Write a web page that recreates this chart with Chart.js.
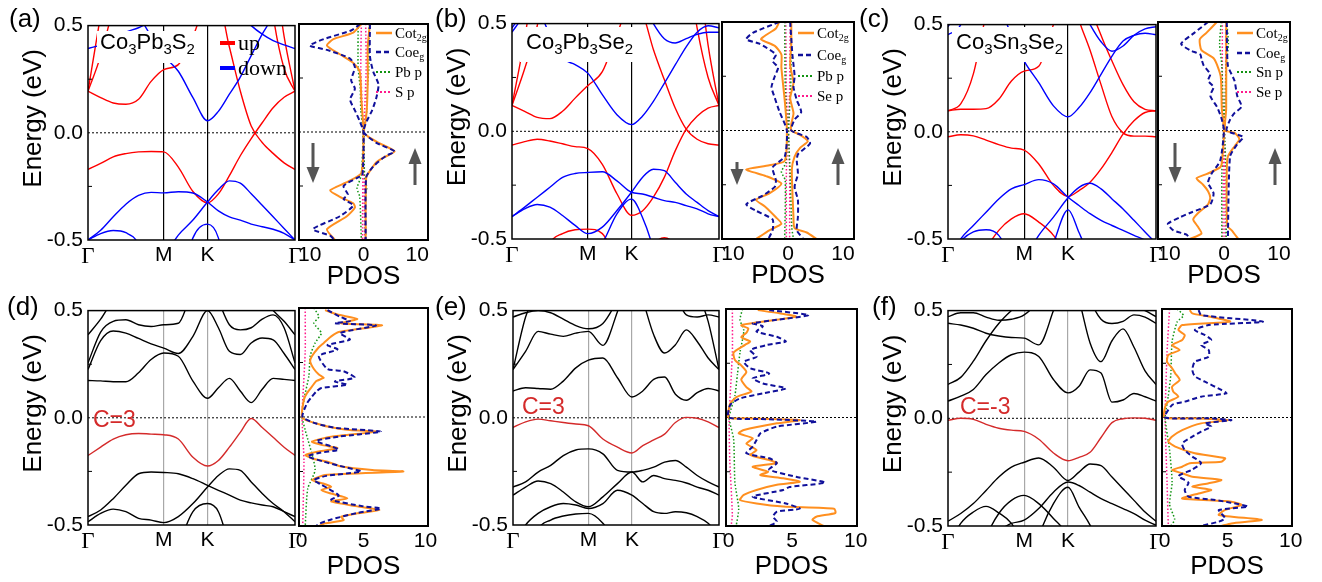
<!DOCTYPE html>
<html>
<head>
<meta charset="utf-8">
<script src="https://cdn.jsdelivr.net/npm/chart.js@4.4.1/dist/chart.umd.min.js"></script>
<style>
  body { margin: 0; background: #fff; }
  #fig { position: relative; width: 1322px; height: 582px; overflow: hidden; font-family: "Liberation Sans", Arial, sans-serif; color: #000; }
  #plots canvas { position: absolute; }
  .ov { position: absolute; white-space: nowrap; line-height: 1; }
  .panel { font-size: 26px; }
  .formula { font-size: 22px; }
  .formula sub { font-size: 15px; vertical-align: -5px; line-height: 0; }
  .wbox { position: absolute; background: #fff; }
  .chern { font-size: 23px; color: #d42a2a; }
  .spin { font-family: "Liberation Serif", "Times New Roman", serif; font-size: 22px; display: flex; align-items: center; height: 24px; }
  .spin i { display: inline-block; width: 15px; height: 4px; margin-right: 3px; }
  .leg { font-family: "Liberation Serif", "Times New Roman", serif; font-size: 15px; display: flex; align-items: center; height: 18px; }
  .leg svg { margin-right: 3px; }
  .leg sub { font-size: 10px; vertical-align: -3px; line-height: 0; }
</style>
</head>
<body>
<div id="fig">
  <div id="plots"></div>

  <!-- white boxes behind the compound names -->
  <div class="wbox" style="left:97px;top:31px;width:104px;height:32px"></div>
  <div class="wbox" style="left:520px;top:27px;width:121px;height:35px"></div>
  <div class="wbox" style="left:952px;top:27px;width:114px;height:35px"></div>

  <div class="ov panel" style="left:9px;top:5px">(a)</div>
  <div class="ov panel" style="left:435px;top:5px">(b)</div>
  <div class="ov panel" style="left:859px;top:5px">(c)</div>
  <div class="ov panel" style="left:7px;top:293px">(d)</div>
  <div class="ov panel" style="left:435px;top:293px">(e)</div>
  <div class="ov panel" style="left:872px;top:293px">(f)</div>

  <div class="ov formula" style="left:100px;top:31px">Co<sub>3</sub>Pb<sub>3</sub>S<sub>2</sub></div>
  <div class="ov formula" style="left:526px;top:31px">Co<sub>3</sub>Pb<sub>3</sub>Se<sub>2</sub></div>
  <div class="ov formula" style="left:956px;top:31px">Co<sub>3</sub>Sn<sub>3</sub>Se<sub>2</sub></div>

  <div class="ov spin" style="left:220px;top:31px"><i style="background:#ff0000"></i><span>up</span></div>
  <div class="ov spin" style="left:220px;top:56px"><i style="background:#0000ff"></i><span>down</span></div>

  <div class="ov chern" style="left:93px;top:408px">C=3</div>
  <div class="ov chern" style="left:522px;top:395px">C=3</div>
  <div class="ov chern" style="left:960px;top:395px">C=-3</div>

  <!-- PDOS legends -->
  <div class="ov leg" style="left:376px;top:24px"><svg width="16" height="6"><line x1="0" y1="3" x2="16" y2="3" stroke="#ff8f1f" stroke-width="2.5"/></svg><span>Cot<sub>2g</sub></span></div>
  <div class="ov leg" style="left:376px;top:43px"><svg width="16" height="6"><line x1="0" y1="3" x2="16" y2="3" stroke="#10109a" stroke-width="2.5" stroke-dasharray="5 3"/></svg><span>Coe<sub>g</sub></span></div>
  <div class="ov leg" style="left:376px;top:63px"><svg width="16" height="6"><line x1="0" y1="3" x2="16" y2="3" stroke="#129412" stroke-width="2" stroke-dasharray="2 2"/></svg><span>Pb p</span></div>
  <div class="ov leg" style="left:376px;top:83px"><svg width="16" height="6"><line x1="0" y1="3" x2="16" y2="3" stroke="#ff1a8c" stroke-width="2" stroke-dasharray="2 2"/></svg><span>S p</span></div>

  <div class="ov leg" style="left:798px;top:24px"><svg width="16" height="6"><line x1="0" y1="3" x2="16" y2="3" stroke="#ff8f1f" stroke-width="2.5"/></svg><span>Cot<sub>2g</sub></span></div>
  <div class="ov leg" style="left:798px;top:46px"><svg width="16" height="6"><line x1="0" y1="3" x2="16" y2="3" stroke="#10109a" stroke-width="2.5" stroke-dasharray="5 3"/></svg><span>Coe<sub>g</sub></span></div>
  <div class="ov leg" style="left:798px;top:67px"><svg width="16" height="6"><line x1="0" y1="3" x2="16" y2="3" stroke="#129412" stroke-width="2" stroke-dasharray="2 2"/></svg><span>Pb p</span></div>
  <div class="ov leg" style="left:798px;top:87px"><svg width="16" height="6"><line x1="0" y1="3" x2="16" y2="3" stroke="#ff1a8c" stroke-width="2" stroke-dasharray="2 2"/></svg><span>Se p</span></div>

  <div class="ov leg" style="left:1237px;top:24px"><svg width="16" height="6"><line x1="0" y1="3" x2="16" y2="3" stroke="#ff8f1f" stroke-width="2.5"/></svg><span>Cot<sub>2g</sub></span></div>
  <div class="ov leg" style="left:1237px;top:44px"><svg width="16" height="6"><line x1="0" y1="3" x2="16" y2="3" stroke="#10109a" stroke-width="2.5" stroke-dasharray="5 3"/></svg><span>Coe<sub>g</sub></span></div>
  <div class="ov leg" style="left:1237px;top:63px"><svg width="16" height="6"><line x1="0" y1="3" x2="16" y2="3" stroke="#129412" stroke-width="2" stroke-dasharray="2 2"/></svg><span>Sn p</span></div>
  <div class="ov leg" style="left:1237px;top:83px"><svg width="16" height="6"><line x1="0" y1="3" x2="16" y2="3" stroke="#ff1a8c" stroke-width="2" stroke-dasharray="2 2"/></svg><span>Se p</span></div>

  <!-- spin arrows -->
  <svg class="ov" style="left:0;top:0" width="1322" height="300">
    <g fill="#555">
      <rect x="311.5" y="143" width="3" height="26"/><polygon points="306.5,167 319.5,167 313,183"/>
      <rect x="413.5" y="162" width="3" height="23"/><polygon points="408.5,164 421.5,164 415,148"/>
      <rect x="735.5" y="162" width="3" height="9"/><polygon points="730.5,169 743.5,169 737,185"/>
      <rect x="836.5" y="162" width="3" height="23"/><polygon points="831.5,164 844.5,164 838,148"/>
      <rect x="1173.5" y="143" width="3" height="26"/><polygon points="1168.5,167 1181.5,167 1175,183"/>
      <rect x="1273.5" y="162" width="3" height="23"/><polygon points="1268.5,164 1281.5,164 1275,148"/>
    </g>
  </svg>
</div>

<script>
// k-path  Γ - M - K - Γ
const kGrid = [0, 0.167, 0.333, 0.5, 0.667, 0.833, 1, 1.192, 1.385, 1.577, 1.721, 1.866, 2.01, 2.154, 2.299, 2.443, 2.588, 2.732];
const kTicks = [0, 1, 1.577, 2.732];
const kLabels = ['Γ', 'M', 'K', 'Γ'];
const pdosTopTicks = [-10, 0, 10];
const pdosBotTicks = [0, 5, 10];

// (a) Co3Pb3S2, spin up / spin down bands (eV)
const aUp1 = [-0.171,-0.143,-0.112,-0.097,-0.089,-0.087,-0.089,-0.16,-0.274,-0.327,-0.285,-0.2,-0.107,-0.027,0.047,0.117,0.166,0.194];
const aUp2 = [0.194,0.164,0.139,0.133,0.156,0.24,0.295,0.318,0.45,0.6,0.6,0.4,0.195,0.032,-0.045,-0.096,-0.14,-0.171];
const aUp3 = [0.194,0.55,0.9,1,1,1,1,1,1,1,1,1,1,1,1,0.8,0.45,0.194];
const aUp4 = [0.194,0.36,0.6,1,1,1,1,1,1,1,1,1,1,1,1,0.55,0.3,0.194];
const aDn1 = [0.8,0.8,0.75,0.65,0.55,0.45,0.36,0.287,0.164,0.056,0.1,0.18,0.26,0.36,0.46,0.55,0.7,0.8];
const aDn2 = [-0.5,-0.455,-0.392,-0.333,-0.292,-0.278,-0.28,-0.275,-0.281,-0.323,-0.364,-0.392,-0.407,-0.426,-0.438,-0.45,-0.469,-0.5];
const aDn3 = [-0.9,-0.85,-0.8,-0.75,-0.7,-0.65,-0.58,-0.477,-0.407,-0.323,-0.265,-0.224,-0.235,-0.284,-0.338,-0.392,-0.446,-0.5];
const aDn4 = [-0.5,-0.47,-0.456,-0.466,-0.52,-0.7,-0.8,-0.8,-0.8,-0.8,-0.8,-0.8,-0.8,-0.8,-0.8,-0.8,-0.7,-0.5];
const aDn5 = [-0.8,-0.8,-0.8,-0.8,-0.8,-0.8,-0.8,-0.75,-0.49,-0.426,-0.49,-0.75,-0.8,-0.8,-0.8,-0.8,-0.8,-0.8];
const aDn6 = [0.393,0.41,0.44,0.47,0.49,0.52,0.55,0.6,0.65,0.7,0.65,0.6,0.55,0.5,0.46,0.43,0.41,0.393];

// (b) Co3Pb3Se2
const bUp1 = [-0.064,-0.048,-0.037,-0.045,-0.058,-0.071,-0.08,-0.153,-0.29,-0.39,-0.37,-0.306,-0.214,-0.091,0.01,0.07,0.108,0.12];
const bUp2 = [0.12,0.093,0.065,0.059,0.093,0.154,0.212,0.277,0.45,0.6,0.55,0.38,0.24,0.108,0.01,-0.037,-0.058,-0.064];
const bUp3 = [0.12,0.43,0.8,1,1,1,1,1,1,1,1,1,1,1,1,0.8,0.4,0.12];
const bUp4 = [0.12,0.29,0.49,0.8,1,1,1,1,1,1,1,1,1,1,0.8,0.48,0.25,0.12];
const bUp5 = [-0.8,-0.8,-0.7,-0.52,-0.475,-0.457,-0.454,-0.475,-0.6,-0.7,-0.65,-0.53,-0.494,-0.53,-0.65,-0.8,-0.8,-0.8];
const bDn1 = [0.48,0.55,0.55,0.45,0.34,0.31,0.27,0.17,0.077,0.031,0.07,0.139,0.223,0.308,0.392,0.46,0.49,0.48];
const bDn2 = [0.46,0.55,0.7,0.8,0.8,0.8,0.8,0.8,0.8,0.7,0.6,0.5,0.43,0.41,0.43,0.45,0.46,0.46];
const bDn3 = [-0.396,-0.352,-0.306,-0.26,-0.214,-0.196,-0.191,-0.188,-0.23,-0.283,-0.291,-0.306,-0.322,-0.33,-0.345,-0.36,-0.383,-0.396];
const bDn4 = [-0.396,-0.36,-0.34,-0.352,-0.391,-0.437,-0.475,-0.445,-0.368,-0.283,-0.214,-0.176,-0.183,-0.237,-0.291,-0.33,-0.368,-0.396];
const bDn5 = [-0.8,-0.8,-0.8,-0.8,-0.8,-0.7,-0.6,-0.52,-0.383,-0.315,-0.399,-0.55,-0.8,-0.8,-0.8,-0.8,-0.8,-0.8];

// (c) Co3Sn3Se2
const cUp1 = [-0.023,-0.014,-0.019,-0.039,-0.06,-0.076,-0.085,-0.15,-0.25,-0.302,-0.274,-0.235,-0.173,-0.096,-0.011,0.051,0.09,0.098];
const cUp2 = [0.098,0.105,0.105,0.108,0.152,0.237,0.283,0.306,0.5,0.7,0.52,0.38,0.22,0.07,-0.005,-0.02,-0.02,-0.023];
const cUp3 = [0.098,0.13,0.27,0.55,0.8,1,1,1,1,1,0.9,0.6,0.45,0.33,0.22,0.14,0.105,0.098];
const cUp4 = [-0.8,-0.8,-0.7,-0.55,-0.46,-0.406,-0.382,-0.421,-0.483,-0.6,-0.8,-0.8,-0.8,-0.8,-0.8,-0.8,-0.8,-0.8];
const cDn1 = [0.453,0.5,0.7,0.7,0.6,0.45,0.33,0.229,0.121,0.07,0.113,0.183,0.268,0.353,0.423,0.45,0.46,0.453];
const cDn2 = [0.49,0.6,0.8,0.8,0.8,0.8,0.8,0.8,0.8,0.7,0.6,0.5,0.42,0.376,0.4,0.45,0.48,0.49];
const cDn3 = [-0.62,-0.5,-0.437,-0.375,-0.313,-0.266,-0.246,-0.223,-0.243,-0.305,-0.344,-0.382,-0.413,-0.437,-0.46,-0.483,-0.506,-0.55];
const cDn4 = [-0.8,-0.8,-0.8,-0.8,-0.8,-0.7,-0.6,-0.483,-0.398,-0.308,-0.259,-0.24,-0.266,-0.313,-0.36,-0.413,-0.467,-0.52];
const cDn5 = [-0.6,-0.51,-0.467,-0.457,-0.483,-0.6,-0.8,-0.8,-0.8,-0.8,-0.8,-0.8,-0.8,-0.8,-0.8,-0.8,-0.8,-0.8];
const cDn6 = [-0.8,-0.8,-0.8,-0.8,-0.8,-0.8,-0.8,-0.7,-0.52,-0.364,-0.47,-0.6,-0.8,-0.8,-0.8,-0.8,-0.8,-0.8];

// (d) Co3Pb3S2 with SOC
const dTop = [-0.176,-0.137,-0.099,-0.079,-0.073,-0.076,-0.079,-0.099,-0.184,-0.225,-0.199,-0.137,-0.068,-0.003,-0.045,-0.091,-0.137,-0.176];
const dB1 = [0.174,0.172,0.168,0.168,0.21,0.272,0.302,0.287,0.171,0.091,0.14,0.184,0.125,0.071,0.133,0.184,0.179,0.174];
const dB2 = [0.225,0.36,0.405,0.395,0.37,0.345,0.325,0.3,0.38,0.5,0.42,0.31,0.295,0.349,0.372,0.364,0.3,0.225];
const dB3 = [0.256,0.4,0.45,0.457,0.434,0.426,0.434,0.441,0.6,0.7,0.55,0.434,0.41,0.42,0.46,0.48,0.42,0.256];
const dB4 = [0.387,0.46,0.55,0.6,0.6,0.6,0.6,0.6,0.7,0.8,0.7,0.6,0.6,0.6,0.55,0.5,0.45,0.387];
const dB5 = [-0.461,-0.43,-0.377,-0.315,-0.261,-0.253,-0.255,-0.261,-0.284,-0.315,-0.338,-0.361,-0.384,-0.397,-0.407,-0.415,-0.438,-0.461];
const dB6 = [-0.485,-0.446,-0.426,-0.438,-0.469,-0.477,-0.489,-0.461,-0.4,-0.323,-0.269,-0.238,-0.245,-0.299,-0.353,-0.4,-0.438,-0.485];
const dB7 = [-0.8,-0.8,-0.8,-0.8,-0.8,-0.8,-0.8,-0.6,-0.438,-0.4,-0.438,-0.6,-0.8,-0.8,-0.8,-0.8,-0.8,-0.8];

// (e) Co3Pb3Se2 with SOC
const eTop = [-0.045,-0.019,-0.006,-0.014,-0.022,-0.029,-0.037,-0.099,-0.137,-0.164,-0.13,-0.103,-0.076,-0.022,0.002,-0.002,-0.019,-0.045];
const eB1 = [0.125,0.14,0.137,0.133,0.171,0.233,0.269,0.279,0.187,0.097,0.125,0.179,0.19,0.11,0.082,0.117,0.137,0.125];
const eB2 = [0.225,0.31,0.403,0.39,0.38,0.395,0.403,0.338,0.495,0.7,0.55,0.387,0.302,0.341,0.41,0.356,0.279,0.225];
const eB3 = [0.47,0.49,0.5,0.49,0.46,0.43,0.415,0.44,0.55,0.7,0.7,0.6,0.55,0.55,0.48,0.47,0.48,0.47];
const eB4 = [0.225,0.47,0.6,0.8,0.8,0.8,0.8,0.8,0.8,0.8,0.8,0.8,0.8,0.8,0.8,0.6,0.45,0.225];
const eB5 = [-0.323,-0.299,-0.253,-0.222,-0.176,-0.15,-0.145,-0.168,-0.245,-0.253,-0.245,-0.23,-0.207,-0.199,-0.23,-0.269,-0.299,-0.323];
const eB6 = [-0.361,-0.323,-0.295,-0.307,-0.346,-0.392,-0.415,-0.369,-0.307,-0.253,-0.299,-0.269,-0.284,-0.292,-0.304,-0.323,-0.338,-0.361];
const eB7 = [-0.6,-0.5,-0.446,-0.415,-0.4,-0.407,-0.423,-0.4,-0.338,-0.361,-0.4,-0.438,-0.446,-0.438,-0.443,-0.461,-0.492,-0.55];
const eB8 = [-0.8,-0.7,-0.52,-0.477,-0.458,-0.449,-0.446,-0.492,-0.6,-0.8,-0.8,-0.8,-0.8,-0.8,-0.8,-0.8,-0.8,-0.8];

// (f) Co3Sn3Se2 with SOC
const fTop = [-0.009,0,-0.005,-0.028,-0.046,-0.055,-0.061,-0.097,-0.161,-0.197,-0.181,-0.158,-0.089,-0.02,-0.002,0.002,0,-0.009];
const fB1 = [0.08,0.103,0.134,0.203,0.257,0.295,0.307,0.287,0.18,0.118,0.149,0.225,0.21,0.075,0.085,0.115,0.1,0.08];
const fB2 = [0.157,0.19,0.265,0.36,0.44,0.5,0.55,0.6,0.7,0.7,0.55,0.35,0.263,0.36,0.415,0.33,0.22,0.157];
const fB3 = [0.441,0.433,0.418,0.395,0.382,0.375,0.372,0.341,0.5,0.7,0.7,0.55,0.46,0.44,0.45,0.48,0.47,0.441];
const fB4 = [0.472,0.49,0.49,0.47,0.455,0.46,0.48,0.55,0.7,0.8,0.8,0.8,0.7,0.6,0.55,0.52,0.5,0.472];
const fB5 = [-0.478,-0.442,-0.396,-0.335,-0.273,-0.227,-0.204,-0.184,-0.227,-0.289,-0.25,-0.212,-0.22,-0.273,-0.327,-0.381,-0.435,-0.478];
const fB6 = [-0.6,-0.6,-0.58,-0.55,-0.52,-0.488,-0.473,-0.419,-0.343,-0.296,-0.312,-0.343,-0.373,-0.396,-0.419,-0.442,-0.473,-0.496];
const fB7 = [-0.8,-0.8,-0.8,-0.8,-0.8,-0.8,-0.8,-0.55,-0.396,-0.32,-0.412,-0.496,-0.6,-0.8,-0.8,-0.8,-0.8,-0.8];
const fB8 = [-0.8,-0.8,-0.7,-0.55,-0.442,-0.381,-0.358,-0.396,-0.465,-0.55,-0.7,-0.8,-0.8,-0.8,-0.8,-0.8,-0.8,-0.8];
const fB9 = [-0.6,-0.488,-0.435,-0.409,-0.439,-0.488,-0.6,-0.8,-0.8,-0.8,-0.8,-0.8,-0.8,-0.8,-0.8,-0.8,-0.8,-0.8];

// PDOS, [energy (eV), states]; spin down drawn negative
const aT2gUp = [[0.5,1.2],[0.4,0.8],[0.25,0.8],[0.1,0.6],[0.02,0.2],[0,0],[-0.02,0.8],[-0.05,2.8],[-0.09,5.8],[-0.12,3.6],[-0.14,2.4],[-0.18,1.2],[-0.21,0.5],[-0.5,0.4]];
const aT2gDn = [[0.5,-0.4],[0.46,-1.9],[0.43,-5.6],[0.4,-6.8],[0.36,-4.4],[0.32,-1.9],[0.28,-0.7],[0.15,-0.4],[0,0],[-0.19,-0.4],[-0.23,-2.9],[-0.27,-6.2],[-0.3,-4.4],[-0.33,-1.9],[-0.35,-1.6],[-0.39,-3.1],[-0.45,-6.8],[-0.5,-5.3]];
const aEgUp = [[0.5,1.2],[0.35,1.2],[0.28,1.8],[0.22,2.8],[0.16,2.4],[0.1,1.6],[0.05,0.6],[0,0],[-0.05,2.4],[-0.09,5.8],[-0.11,4.2],[-0.16,1.8],[-0.21,0.5],[-0.5,0.4]];
const aEgDn = [[0.5,-0.6],[0.47,-2.3],[0.43,-7.4],[0.4,-10],[0.38,-6.8],[0.34,-2.5],[0.3,-1.6],[0.24,-2.3],[0.2,-1.6],[0.15,-2.5],[0.1,-1.6],[0.05,-0.7],[0,0],[-0.2,-0.2],[-0.21,-1],[-0.25,-3.7],[-0.29,-2.9],[-0.31,-3.7],[-0.34,-1.9],[-0.39,-4.4],[-0.45,-9.4],[-0.48,-6.2],[-0.5,-5.4]];
const aPbUp = [[0.5,1],[0.3,1],[0.2,0.7],[0.1,0.6],[0,0.1],[-0.2,0.2],[-0.26,0.6],[-0.3,0.4],[-0.5,0.4]];
const aPbDn = [[0.5,-1],[0.3,-1],[0.2,-0.6],[0.1,-0.5],[0,-0.1],[-0.2,-0.4],[-0.26,-1.2],[-0.3,-0.7],[-0.5,-0.4]];
const aSUp = [[0.5,0.4],[0.3,0.5],[0,0.1],[-0.5,0.2]];
const aSDn = [[0.5,-0.4],[0.3,-0.5],[0,-0.1],[-0.5,-0.2]];

const bT2gUp = [[0.5,0.6],[0.4,0.6],[0.3,0.4],[0.22,1],[0.15,0.4],[0.08,1],[0.03,0.6],[0,0.6],[-0.02,2.2],[-0.05,3.6],[-0.08,2.2],[-0.12,1.2],[-0.18,0.7],[-0.4,1],[-0.45,1.2],[-0.47,3.4],[-0.5,5.2]];
const bT2gDn = [[0.5,-1.6],[0.47,-2.2],[0.44,-4],[0.42,-4.9],[0.39,-2.4],[0.35,-1.2],[0.29,-1.2],[0.14,-0.6],[0,-0.2],[-0.14,-0.6],[-0.16,-3.4],[-0.18,-7.6],[-0.21,-4],[-0.245,-1.2],[-0.29,-3.4],[-0.32,-5.8],[-0.35,-4.2],[-0.4,-2.2],[-0.43,-1.2],[-0.46,-3.4],[-0.5,-5.8]];
const bEgUp = [[0.5,0.4],[0.35,0.8],[0.25,1.2],[0.2,1],[0.14,1.6],[0.085,2.4],[0.05,1.2],[0,0.6],[-0.03,3.4],[-0.06,4],[-0.11,1.8],[-0.14,1.6],[-0.2,1.8],[-0.26,1.2],[-0.32,1.8],[-0.4,1.8],[-0.46,1.6],[-0.5,2.8]];
const bEgDn = [[0.5,-1.6],[0.45,-6.4],[0.42,-7.6],[0.4,-5.2],[0.35,-2.2],[0.32,-2.8],[0.29,-1.8],[0.25,-2.4],[0.2,-3],[0.15,-2.4],[0.09,-1.6],[0,-0.2],[-0.12,-0.6],[-0.17,-2.8],[-0.23,-2.2],[-0.26,-2.4],[-0.3,-4.6],[-0.34,-7.6],[-0.37,-5.8],[-0.41,-2.8],[-0.46,-2.8],[-0.5,-3.6]];
const bPbUp = [[0.5,0.6],[0.2,0.5],[0,0.1],[-0.2,0.4],[-0.45,0.7],[-0.5,1]];
const bPbDn = [[0.5,-0.6],[0.2,-0.5],[0,-0.1],[-0.15,-0.4],[-0.19,-1.2],[-0.23,-0.5],[-0.5,-0.6]];
const bSeUp = [[0.5,0.4],[0.2,0.3],[0,0.1],[-0.2,0.3],[-0.5,0.3]];
const bSeDn = [[0.5,-0.4],[0.2,-0.3],[0,-0.1],[-0.2,-0.3],[-0.5,-0.3]];

const cT2gUp = [[0.5,0.4],[0.1,0.4],[0,0.2],[-0.01,1.9],[-0.04,2.8],[-0.07,2],[-0.12,0.7],[-0.2,0.5],[-0.44,0.6],[-0.46,1.4],[-0.5,2.6]];
const cT2gDn = [[0.5,-1.3],[0.45,-3.2],[0.42,-4.4],[0.37,-4.1],[0.33,-1.8],[0.25,-0.6],[0.1,-0.4],[0,0],[-0.15,-0.4],[-0.17,-0.7],[-0.2,-3.1],[-0.22,-5],[-0.25,-3.8],[-0.28,-2.9],[-0.31,-2.5],[-0.34,-2.9],[-0.38,-4.7],[-0.41,-5.6],[-0.445,-4.7],[-0.475,-4.1],[-0.5,-6.2]];
const cEgUp = [[0.5,0.5],[0.3,0.7],[0.23,1.9],[0.16,2.4],[0.11,3.2],[0.08,1.9],[0.05,1.1],[0,0.5],[-0.03,3.5],[-0.06,2.5],[-0.12,1.1],[-0.5,0.7]];
const cEgDn = [[0.5,-2.9],[0.45,-5.4],[0.4,-7.8],[0.37,-6.2],[0.35,-4.3],[0.33,-4.1],[0.3,-3.7],[0.26,-2.5],[0.23,-2.9],[0.2,-1.9],[0.16,-2.5],[0.11,-1.3],[0.06,-0.5],[0,0],[-0.14,-0.7],[-0.2,-2.3],[-0.24,-2.9],[-0.29,-1.9],[-0.34,-2.5],[-0.38,-6.2],[-0.4,-8],[-0.43,-10.2],[-0.46,-9.2],[-0.48,-6.8],[-0.5,-6.2]];
const cSnUp = [[0.5,0.5],[0.4,0.8],[0.3,0.4],[0,0.1],[-0.2,0.4],[-0.5,0.4]];
const cSnDn = [[0.5,-0.5],[0.4,-0.8],[0.3,-0.4],[0,-0.1],[-0.2,-0.4],[-0.5,-0.4]];
const cSeUp = [[0.5,0.3],[0.2,0.3],[0,0.1],[-0.5,0.2]];
const cSeDn = [[0.5,-0.3],[0.2,-0.3],[0,-0.1],[-0.5,-0.2]];

const dT2g = [[0.49,1.9],[0.47,2.9],[0.45,4.5],[0.43,3.2],[0.42,6.5],[0.39,3],[0.37,2.4],[0.34,1.8],[0.32,1.4],[0.28,0.85],[0.255,0.7],[0.22,1],[0.195,1.4],[0.18,1.8],[0.165,1.2],[0.14,0.85],[0.11,0.45],[0.08,0.2],[0,0.03],[-0.013,0.33],[-0.03,1.2],[-0.044,2.1],[-0.06,3.9],[-0.067,6.1],[-0.09,2.4],[-0.113,0.85],[-0.128,1.6],[-0.143,2.9],[-0.158,1.4],[-0.174,0.33],[-0.19,0.85],[-0.205,2.1],[-0.227,3.2],[-0.243,5.7],[-0.25,8.2],[-0.266,1.9],[-0.29,0.85],[-0.305,1.75],[-0.32,2.4],[-0.335,1.6],[-0.35,2.3],[-0.373,3.7],[-0.388,2.4],[-0.41,4.5],[-0.427,6.3],[-0.442,4.5],[-0.457,3.2],[-0.473,3.4],[-0.488,1.9],[-0.5,1.4]];
const dEg = [[0.49,2.1],[0.46,3.1],[0.44,3.9],[0.43,2.7],[0.42,6],[0.385,3.1],[0.355,3.9],[0.33,2.1],[0.31,2.9],[0.28,1.4],[0.22,2.1],[0.21,3.4],[0.18,4.3],[0.163,2.7],[0.148,3.7],[0.133,1.6],[0.117,1.2],[0.094,0.85],[0.063,0.45],[0,0.08],[-0.03,1.2],[-0.05,2.8],[-0.067,6.4],[-0.09,3],[-0.11,1.2],[-0.135,2.4],[-0.15,3],[-0.165,1.4],[-0.18,0.5],[-0.205,1.8],[-0.23,3.5],[-0.25,4.8],[-0.27,2],[-0.29,1],[-0.31,1.6],[-0.33,2.2],[-0.36,3],[-0.38,2.4],[-0.41,5],[-0.42,6.4],[-0.44,4.5],[-0.47,2.4],[-0.49,1.4],[-0.5,1.2]];
const dPb = [[0.5,1],[0.46,1.4],[0.43,1],[0.385,1.6],[0.34,1.1],[0.28,0.7],[0.19,0.6],[0.08,0.2],[0,0.05],[-0.06,0.3],[-0.24,1.1],[-0.33,0.5],[-0.5,0.3]];
const dS = [[0.5,0.3],[0.3,0.3],[0,0.05],[-0.2,0.2],[-0.5,0.1]];

const eT2g = [[0.495,2.3],[0.48,4],[0.465,5.3],[0.44,2.5],[0.425,1],[0.41,1.55],[0.39,1.4],[0.37,1],[0.35,1.7],[0.335,1.3],[0.3,0.4],[0.265,0.5],[0.24,1],[0.21,1.4],[0.175,1],[0.14,1.4],[0.12,1.8],[0.095,0.65],[0.065,0.13],[0,0],[-0.004,1.2],[-0.012,5.6],[-0.027,3.8],[-0.058,1.2],[-0.073,0.8],[-0.096,1.9],[-0.12,1.4],[-0.15,2.2],[-0.173,1.7],[-0.196,3.2],[-0.21,3.8],[-0.227,1.9],[-0.25,3.1],[-0.265,2.5],[-0.28,4.3],[-0.296,5.6],[-0.31,3.8],[-0.334,2.2],[-0.357,1.2],[-0.38,0.9],[-0.396,2.2],[-0.41,4.3],[-0.42,8.3],[-0.44,8.4],[-0.457,6.9],[-0.472,6.6],[-0.5,7.5]];
const eEg = [[0.495,3.2],[0.472,6.3],[0.45,3.8],[0.434,1.9],[0.42,2.7],[0.396,2.2],[0.372,3.8],[0.35,4.5],[0.334,3],[0.31,1.7],[0.28,2.2],[0.257,1.2],[0.227,1.7],[0.203,3.2],[0.18,1.9],[0.157,2.7],[0.134,4.5],[0.111,2.7],[0.088,0.9],[0.058,0.13],[0,0],[-0.008,3.2],[-0.019,6.9],[-0.042,3.8],[-0.073,2.5],[-0.104,2.2],[-0.134,1.9],[-0.165,1.4],[-0.188,3.2],[-0.21,3.8],[-0.24,3.2],[-0.273,5.3],[-0.3,7.6],[-0.32,4.8],[-0.334,4.3],[-0.365,1.9],[-0.396,4.5],[-0.42,5.6],[-0.434,3.8],[-0.457,3.5],[-0.48,3.8],[-0.5,3.2]];
const ePb = [[0.5,1.1],[0.45,0.9],[0.4,1.2],[0.3,0.9],[0.2,0.7],[0.1,0.5],[0,0.05],[-0.1,0.4],[-0.3,0.5],[-0.42,0.8],[-0.5,0.6]];
const eSe = [[0.5,0.3],[0.3,0.3],[0,0.05],[-0.2,0.1],[-0.45,0.3],[-0.5,0.2]];

const fT2g = [[0.495,2],[0.48,2.2],[0.465,3.5],[0.442,5.2],[0.426,1.4],[0.403,1.1],[0.38,1.6],[0.357,1.4],[0.334,0.6],[0.311,1.2],[0.288,0.3],[0.257,0.2],[0.227,0.6],[0.203,0.85],[0.173,1.2],[0.142,0.6],[0.119,0.7],[0.096,1.1],[0.073,0.3],[0.05,0.05],[0,0],[-0.004,2.2],[-0.012,5],[-0.027,2.9],[-0.058,1.4],[-0.088,0.6],[-0.111,0.3],[-0.134,0.85],[-0.165,2.4],[-0.188,4.8],[-0.204,4.5],[-0.211,2],[-0.227,1.4],[-0.242,0.6],[-0.257,1.4],[-0.273,2.2],[-0.288,4.5],[-0.303,3.5],[-0.319,2.2],[-0.334,3.7],[-0.35,2.7],[-0.373,1.4],[-0.388,5.3],[-0.403,6.1],[-0.426,4.8],[-0.449,4.3],[-0.472,7.7],[-0.488,5.3],[-0.5,4.5]];
const fEg = [[0.495,2.7],[0.472,2.9],[0.442,7.8],[0.426,3.5],[0.403,2.4],[0.38,3.2],[0.357,3.7],[0.334,2.9],[0.311,3.5],[0.28,3.5],[0.257,2.4],[0.22,2.2],[0.19,2.4],[0.165,3.2],[0.127,4.5],[0.111,4.9],[0.096,2.9],[0.073,1.6],[0.058,0.6],[0,0.05],[-0.004,3.5],[-0.012,5.3],[-0.027,3.2],[-0.042,3.7],[-0.065,2.9],[-0.088,2.2],[-0.12,1.4],[-0.15,1.6],[-0.18,2.2],[-0.21,2.9],[-0.24,2.2],[-0.27,1.1],[-0.3,1.9],[-0.334,1.6],[-0.365,1.9],[-0.38,4],[-0.41,6.6],[-0.426,4.3],[-0.442,4.5],[-0.465,4.8],[-0.48,4.3],[-0.5,2.9]];
const fSn = [[0.5,1],[0.47,1.5],[0.44,1],[0.35,0.6],[0.2,0.5],[0.1,0.3],[0,0.05],[-0.15,0.4],[-0.3,0.6],[-0.4,0.4],[-0.47,0.8],[-0.5,0.5]];
const fSe = [[0.5,0.4],[0.3,0.2],[0,0.05],[-0.3,0.2],[-0.5,0.3]];

const SANS = '"Liberation Sans", Arial, sans-serif';
const SERIF = '"Liberation Serif", "Times New Roman", serif';
const RED = '#ff0000', BLUE = '#0000ff', BLACK = '#000000', CRED = '#d42a2a';
const ORANGE = '#ff8f1f', NAVY = '#10109a', GREEN = '#129412', PINK = '#ff1a8c';
Chart.defaults.font.family = SANS;
Chart.defaults.color = '#000';

const framePlugin = {
  id: 'frame',
  beforeDatasetsDraw(chart) {
    const { ctx, chartArea: a, scales } = chart;
    const y0 = scales.y.getPixelForValue(0);
    ctx.save();
    ctx.strokeStyle = '#000';
    ctx.lineWidth = 1;
    ctx.setLineDash([2, 2]);
    ctx.beginPath();
    ctx.moveTo(a.left, y0);
    ctx.lineTo(a.right, y0);
    ctx.stroke();
    ctx.restore();
  },
  afterDraw(chart, args, opts) {
    const { ctx, chartArea: a, scales } = chart;
    ctx.save();
    ctx.strokeStyle = '#000';
    ctx.lineWidth = opts.width || 1.5;
    ctx.strokeRect(a.left, a.top, a.right - a.left, a.bottom - a.top);
    ctx.lineWidth = 1;
    [-0.25, 0.25].forEach(v => {
      const y = scales.y.getPixelForValue(v);
      ctx.beginPath();
      ctx.moveTo(a.left, y);
      ctx.lineTo(a.left + 4, y);
      ctx.stroke();
    });
    ctx.restore();
  }
};

function placeCanvas(left, top, w, h) {
  const c = document.createElement('canvas');
  c.width = w;
  c.height = h;
  c.style.left = left + 'px';
  c.style.top = top + 'px';
  document.getElementById('plots').appendChild(c);
  return c;
}

function makeBand(rect, bands, vColor) {
  const [l, t, r, b] = rect;
  const YW = 70, PT = 16, PR = 16, XH = 30;
  const canvas = placeCanvas(l - YW, t - PT, r - l + YW + PR, b - t + PT + XH);
  new Chart(canvas, {
    type: 'line',
    data: {
      datasets: bands.map(([vals, color]) => ({
        data: kGrid.map((k, i) => ({ x: k, y: vals[i] })),
        borderColor: color,
        borderWidth: 1.4,
        pointRadius: 0,
        cubicInterpolationMode: 'monotone',
        fill: false
      }))
    },
    options: {
      responsive: false,
      animation: false,
      events: [],
      layout: { padding: { top: PT, right: PR, left: 0, bottom: 0 } },
      plugins: { legend: { display: false }, tooltip: { enabled: false }, frame: { width: 1.5 } },
      scales: {
        x: {
          type: 'linear', min: 0, max: kTicks[3],
          afterBuildTicks: s => { s.ticks = kTicks.map(v => ({ value: v })); },
          afterFit: s => { s.height = XH; },
          ticks: {
            autoSkip: false, maxRotation: 0, padding: 3,
            callback: (v, i) => kLabels[i],
            font: c => kLabels[c.index] === 'Γ' ? { family: SERIF, size: 23 } : { family: SANS, size: 21 }
          },
          grid: {
            drawTicks: false, lineWidth: 1.2,
            color: c => (c.tick && (c.tick.value === kTicks[1] || c.tick.value === kTicks[2])) ? vColor : 'rgba(0,0,0,0)'
          },
          border: { display: false }
        },
        y: {
          type: 'linear', min: -0.5, max: 0.5,
          afterFit: s => { s.width = YW; },
          ticks: { stepSize: 0.5, padding: 5, font: { size: 21 }, callback: v => v.toFixed(1) },
          grid: { display: false, drawTicks: false },
          border: { display: false },
          // leading no-break spaces nudge the centred title upward, as in the figure
          title: { display: true, text: '\u00a0\u00a0\u00a0\u00a0Energy (eV)', font: { size: 26 }, padding: 0 }
        }
      }
    },
    plugins: [framePlugin]
  });
}

function makePdos(rect, series, xMin, xMax, xTicks, XH) {
  const [l, t, r, b] = rect;
  const PL = 20, PT = 16, PR = 20;
  const canvas = placeCanvas(l - PL, t - PT, r - l + PL + PR, b - t + PT + XH);
  new Chart(canvas, {
    type: 'line',
    data: {
      datasets: series.map(([pts, color, dash, width]) => ({
        data: pts.map(p => ({ x: p[1], y: p[0] })),
        borderColor: color,
        borderWidth: width,
        borderDash: dash,
        pointRadius: 0,
        tension: 0.2,
        fill: false
      }))
    },
    options: {
      responsive: false,
      animation: false,
      events: [],
      layout: { padding: { top: PT, right: PR, left: PL, bottom: 0 } },
      plugins: { legend: { display: false }, tooltip: { enabled: false }, frame: { width: 2 } },
      scales: {
        x: {
          type: 'linear', min: xMin, max: xMax,
          afterBuildTicks: s => { s.ticks = xTicks.map(v => ({ value: v })); },
          afterFit: s => { s.height = XH; },
          ticks: { autoSkip: false, maxRotation: 0, padding: 3, font: { size: 21 }, callback: v => String(Math.abs(v)) },
          grid: { display: false, drawTicks: false },
          border: { display: false },
          title: { display: true, text: 'PDOS', font: { size: 26 }, padding: 0 }
        },
        y: { type: 'linear', min: -0.5, max: 0.5, display: false }
      }
    },
    plugins: [framePlugin]
  });
}

const solid = [], dashed = [5, 3], dotted = [1.5, 2];

// top row: spin-polarized bands
makeBand([88, 24, 295, 240], [[aDn6, BLUE], [aUp3, RED], [aUp4, RED], [aDn1, BLUE], [aDn2, BLUE], [aDn3, BLUE], [aDn4, BLUE], [aDn5, BLUE], [aUp1, RED], [aUp2, RED]], BLACK);
makeBand([512, 22, 719, 239], [[bDn1, BLUE], [bDn2, BLUE], [bDn3, BLUE], [bDn4, BLUE], [bDn5, BLUE], [bUp1, RED], [bUp2, RED], [bUp3, RED], [bUp4, RED], [bUp5, RED]], BLACK);
makeBand([948, 23, 1156, 239], [[cDn1, BLUE], [cDn2, BLUE], [cDn3, BLUE], [cDn4, BLUE], [cDn5, BLUE], [cDn6, BLUE], [cUp1, RED], [cUp2, RED], [cUp3, RED], [cUp4, RED]], BLACK);

makePdos([299, 24, 428, 240], [
  [aEgUp, NAVY, dashed, 2], [aEgDn, NAVY, dashed, 2], [aT2gUp, ORANGE, solid, 2], [aT2gDn, ORANGE, solid, 2],
  [aPbUp, GREEN, dotted, 1.5], [aPbDn, GREEN, dotted, 1.5], [aSUp, PINK, dotted, 1.5], [aSDn, PINK, dotted, 1.5]
], -12, 12, pdosTopTicks, 52);
makePdos([722, 22, 854, 239], [
  [bEgUp, NAVY, dashed, 2], [bEgDn, NAVY, dashed, 2], [bT2gUp, ORANGE, solid, 2], [bT2gDn, ORANGE, solid, 2],
  [bPbUp, GREEN, dotted, 1.5], [bPbDn, GREEN, dotted, 1.5], [bSeUp, PINK, dotted, 1.5], [bSeDn, PINK, dotted, 1.5]
], -12, 12, pdosTopTicks, 52);
makePdos([1158, 22, 1290, 239], [
  [cEgUp, NAVY, dashed, 2], [cEgDn, NAVY, dashed, 2], [cT2gUp, ORANGE, solid, 2], [cT2gDn, ORANGE, solid, 2],
  [cSnUp, GREEN, dotted, 1.5], [cSnDn, GREEN, dotted, 1.5], [cSeUp, PINK, dotted, 1.5], [cSeDn, PINK, dotted, 1.5]
], -12, 12, pdosTopTicks, 52);

// bottom row: with spin-orbit coupling
makeBand([88, 309, 295, 525], [[dB1, BLACK], [dB2, BLACK], [dB3, BLACK], [dB4, BLACK], [dB5, BLACK], [dB6, BLACK], [dB7, BLACK], [dTop, CRED]], '#a8a8a8');
makeBand([513, 309, 719, 525], [[eB1, BLACK], [eB2, BLACK], [eB3, BLACK], [eB4, BLACK], [eB5, BLACK], [eB6, BLACK], [eB7, BLACK], [eB8, BLACK], [eTop, CRED]], '#a8a8a8');
makeBand([948, 309, 1156, 526], [[fB1, BLACK], [fB2, BLACK], [fB3, BLACK], [fB4, BLACK], [fB5, BLACK], [fB6, BLACK], [fB7, BLACK], [fB8, BLACK], [fB9, BLACK], [fTop, CRED]], '#a8a8a8');

makePdos([299, 308, 428, 526], [[dEg, NAVY, dashed, 2], [dT2g, ORANGE, solid, 2], [dPb, GREEN, dotted, 1.5], [dS, PINK, dotted, 1.5]], -0.2, 10.2, pdosBotTicks, 56);
makePdos([726, 309, 857, 526], [[eEg, NAVY, dashed, 2], [eT2g, ORANGE, solid, 2], [ePb, GREEN, dotted, 1.5], [eSe, PINK, dotted, 1.5]], -0.2, 10.1, pdosBotTicks, 56);
makePdos([1162, 309, 1292, 526], [[fEg, NAVY, dashed, 2], [fT2g, ORANGE, solid, 2], [fSn, GREEN, dotted, 1.5], [fSe, PINK, dotted, 1.5]], -0.2, 10.1, pdosBotTicks, 56);
</script>
</body>
</html>
